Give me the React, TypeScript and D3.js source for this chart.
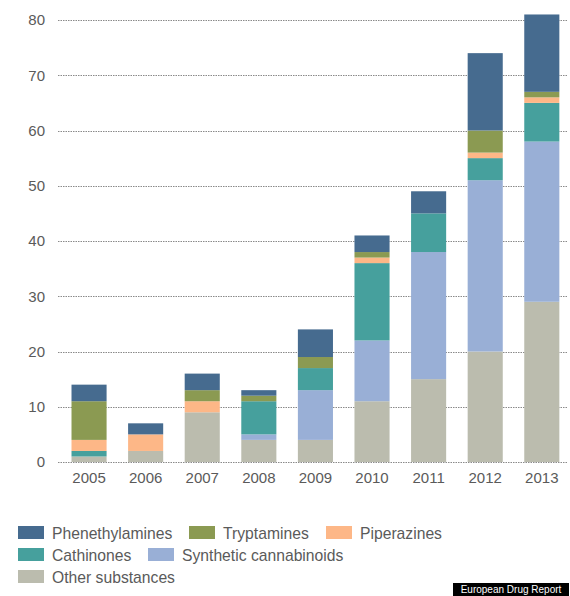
import React from "react";
import * as d3 from "d3";

const years = ["2005", "2006", "2007", "2008", "2009", "2010", "2011", "2012", "2013"];
const seriesNames = [
  "Other substances",
  "Synthetic cannabinoids",
  "Cathinones",
  "Piperazines",
  "Tryptamines",
  "Phenethylamines",
];
const otherSubstances = [1, 2, 9, 4, 4, 11, 15, 20, 29];
const syntheticCannabinoids = [0, 0, 0, 1, 9, 11, 23, 31, 29];
const cathinones = [1, 0, 0, 6, 4, 14, 7, 4, 7];
const piperazines = [2, 3, 2, 0, 0, 1, 0, 1, 1];
const tryptamines = [7, 0, 2, 1, 2, 1, 0, 4, 1];
const phenethylamines = [3, 2, 3, 1, 5, 3, 4, 14, 14];
const yTicks = [0, 10, 20, 30, 40, 50, 60, 70, 80];

const colors: Record<string, string> = {
  "Phenethylamines": "#466b8f",
  "Tryptamines": "#8b9a52",
  "Piperazines": "#fdb787",
  "Cathinones": "#46a09d",
  "Synthetic cannabinoids": "#99afd6",
  "Other substances": "#bbbcae",
};

const legendRows = [
  ["Phenethylamines", "Tryptamines", "Piperazines"],
  ["Cathinones", "Synthetic cannabinoids"],
  ["Other substances"],
];

const font = "'Liberation Sans', Arial, sans-serif";

export default function App() {
  const valuesBySeries = [
    otherSubstances,
    syntheticCannabinoids,
    cathinones,
    piperazines,
    tryptamines,
    phenethylamines,
  ];
  const table = years.map((y, i) => {
    const row: Record<string, any> = { year: y };
    seriesNames.forEach((s, k) => (row[s] = valuesBySeries[k][i]));
    return row;
  });
  const stacked = d3.stack<any>().keys(seriesNames)(table);

  const x = d3
    .scaleBand<string>()
    .domain(years)
    .range([60.75, 570.1])
    .paddingInner(0.38)
    .paddingOuter(0.19);
  const y = d3.scaleLinear().domain([0, 80]).range([462, 20]);

  const legendX = [
    [18, 189, 326],
    [18, 148],
    [18],
  ];
  const legendY = [526, 548, 570];

  return (
    <svg
      width={570}
      height={596}
      style={{ position: "absolute", left: 0, top: 0, background: "#fff" }}
    >
      <g>
        {yTicks.map((t) => (
          <g key={t}>
            <line
              x1={58}
              x2={568}
              y1={Math.round(y(t)) + 0.5}
              y2={Math.round(y(t)) + 0.5}
              stroke="#8a8a8a"
              strokeWidth={1}
              strokeDasharray="1.5,1"
            />
            <text
              x={45}
              y={y(t)}
              dy="0.36em"
              textAnchor="end"
              fontFamily={font}
              fontSize={15}
              fill="#5a5a5a"
            >
              {t}
            </text>
          </g>
        ))}
      </g>
      <g>
        {stacked.map((layer) => (
          <g key={layer.key} fill={colors[layer.key]}>
            {layer.map((d, i) =>
              d[1] - d[0] > 0 ? (
                <rect
                  key={i}
                  x={x(years[i])}
                  y={y(d[1])}
                  width={x.bandwidth()}
                  height={y(d[0]) - y(d[1])}
                />
              ) : null
            )}
          </g>
        ))}
      </g>
      <g>
        {years.map((yr) => (
          <text
            key={yr}
            x={(x(yr) as number) + x.bandwidth() / 2}
            y={483}
            textAnchor="middle"
            fontFamily={font}
            fontSize={15}
            fill="#5a5a5a"
          >
            {yr}
          </text>
        ))}
      </g>
      <g>
        {legendRows.map((row, r) =>
          row.map((name, c) => (
            <g key={name}>
              <rect
                x={legendX[r][c]}
                y={legendY[r]}
                width={26}
                height={13}
                fill={colors[name]}
              />
              <text
                x={legendX[r][c] + 34}
                y={legendY[r] + 12.5}
                fontFamily={font}
                fontSize={15.7}
                fill="#5a5a5a"
              >
                {name}
              </text>
            </g>
          ))
        )}
      </g>
      <rect x={453} y={583} width={116} height={13} fill="#000" />
      <text
        x={511}
        y={593}
        textAnchor="middle"
        fontFamily={font}
        fontSize={10}
        fill="#fff"
      >
        European Drug Report
      </text>
    </svg>
  );
}
